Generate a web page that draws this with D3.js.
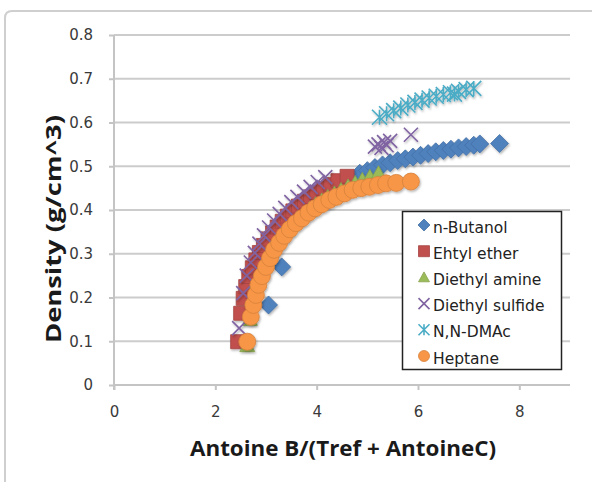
<!DOCTYPE html>
<html>
<head>
<meta charset="utf-8">
<script src="https://cdn.jsdelivr.net/npm/d3@7"></script>
<style>
  html, body { margin: 0; padding: 0; background: #fff; }
  svg { display: block; }
</style>
</head>
<body>
<svg id="chart" width="592" height="482"></svg>
<script>
// Axis ticks
const xTicks = [0, 2, 4, 6, 8];
const yTicks = [0, 0.1, 0.2, 0.3, 0.4, 0.5, 0.6, 0.7, 0.8];

// Series (x = Antoine B/(Tref + AntoineC), y = density g/cm^3)
const seriesNames = ["n-Butanol", "Ehtyl ether", "Diethyl amine", "Diethyl sulfide", "N,N-DMAc", "Heptane"];
const seriesColors = ["#4F81BD", "#C0504D", "#9BBB59", "#8064A2", "#4BACC6", "#F79646"];
const seriesShapes = ["diamond", "square", "triangle", "x", "star", "circle"];

const butanolX = [3.05, 3.31, 4.85, 5.0, 5.15, 5.3, 5.45, 5.6, 5.75, 5.9, 6.05, 6.2, 6.35, 6.5, 6.65, 6.8, 6.95, 7.1, 7.22, 7.61];
const butanolY = [0.183, 0.270, 0.484, 0.490, 0.497, 0.503, 0.508, 0.513, 0.517, 0.521, 0.525, 0.529, 0.533, 0.536, 0.539, 0.542, 0.545, 0.548, 0.551, 0.552];

const etherX = [2.44, 2.50, 2.55, 2.60, 2.66, 2.73, 2.80, 2.87, 2.95, 3.04, 3.13, 3.22, 3.32, 3.42, 3.53, 3.64, 3.76, 3.88, 4.0, 4.13, 4.27, 4.42, 4.6];
const etherY = [0.099, 0.164, 0.198, 0.225, 0.248, 0.268, 0.286, 0.303, 0.319, 0.334, 0.348, 0.361, 0.374, 0.386, 0.398, 0.409, 0.420, 0.430, 0.440, 0.449, 0.458, 0.467, 0.477];

const amineX = [2.63, 2.68, 2.75, 2.82, 2.9, 3.0, 3.1, 3.2, 3.3, 3.4, 3.5, 3.62, 3.74, 3.86, 3.98, 4.1, 4.22, 4.35, 4.48, 4.62, 4.76, 4.9, 5.05, 5.22];
const amineY = [0.090, 0.150, 0.200, 0.235, 0.262, 0.287, 0.308, 0.326, 0.342, 0.356, 0.369, 0.381, 0.392, 0.403, 0.413, 0.422, 0.430, 0.438, 0.446, 0.454, 0.462, 0.469, 0.476, 0.484];

const sulfideX = [2.47, 2.55, 2.62, 2.7, 2.78, 2.87, 2.96, 3.06, 3.16, 3.27, 3.38, 3.5, 3.62, 3.75, 3.88, 4.02, 4.17, 5.15, 5.22, 5.28, 5.33, 5.38, 5.45, 5.86];
const sulfideY = [0.130, 0.210, 0.250, 0.280, 0.302, 0.323, 0.342, 0.360, 0.376, 0.391, 0.405, 0.418, 0.430, 0.442, 0.453, 0.464, 0.475, 0.545, 0.550, 0.542, 0.555, 0.548, 0.558, 0.572];

const dmacX = [5.24, 5.38, 5.52, 5.66, 5.8, 5.94, 6.08, 6.22, 6.36, 6.5, 6.64, 6.72, 6.8, 6.95, 7.1];
const dmacY = [0.612, 0.620, 0.627, 0.633, 0.640, 0.646, 0.651, 0.656, 0.660, 0.664, 0.668, 0.665, 0.671, 0.675, 0.678];

const heptaneX = [2.63, 2.70, 2.75, 2.80, 2.85, 2.92, 3.0, 3.08, 3.16, 3.26, 3.36, 3.47, 3.59, 3.71, 3.84, 3.97, 4.10, 4.25, 4.39, 4.55, 4.71, 4.88, 5.04, 5.21, 5.37, 5.57, 5.86];
const heptaneY = [0.099, 0.156, 0.183, 0.206, 0.229, 0.249, 0.270, 0.290, 0.309, 0.325, 0.341, 0.356, 0.370, 0.381, 0.394, 0.404, 0.413, 0.423, 0.430, 0.438, 0.446, 0.450, 0.453, 0.457, 0.461, 0.462, 0.465];

const seriesX = [butanolX, etherX, amineX, sulfideX, dmacX, heptaneX];
const seriesY = [butanolY, etherY, amineY, sulfideY, dmacY, heptaneY];

const svg = d3.select("#chart");
const margin = { left: 114, right: 22, top: 35, bottom: 97 };
const W = 592, H = 482;

const x = d3.scaleLinear().domain([0, 9]).range([margin.left, W - margin.right]);
const y = d3.scaleLinear().domain([0, 0.8]).range([H - margin.bottom, margin.top]);

// Drop shadow for markers
const defs = svg.append("defs");
const shadow = defs.append("filter").attr("id", "shadow")
  .attr("x", "-50%").attr("y", "-50%").attr("width", "200%").attr("height", "200%");
shadow.append("feDropShadow").attr("dx", 1).attr("dy", 1.5)
  .attr("stdDeviation", 1).attr("flood-color", "#000").attr("flood-opacity", 0.3);

// Outer chart frame
svg.append("path")
  .attr("d", `M5,${H + 5} L5,18 Q5,11 12,11 L${W + 5},11`)
  .attr("fill", "none").attr("stroke", "#cfcfcf").attr("stroke-width", 2);

// Horizontal gridlines
svg.append("g").selectAll("line").data(yTicks.filter(d => d > 0)).join("line")
  .attr("x1", x(0)).attr("x2", x(9))
  .attr("y1", d => y(d)).attr("y2", d => y(d))
  .attr("stroke", "#cccccc").attr("stroke-width", 2);

// Axes
const yAxis = d3.axisLeft(y).tickValues(yTicks).tickSize(5).tickPadding(16)
  .tickFormat(d => d === 0 ? "0" : d3.format(".1f")(d));
const xAxis = d3.axisBottom(x).tickValues(xTicks).tickSize(5).tickPadding(16)
  .tickFormat(d3.format("d"));

const gy = svg.append("g").attr("transform", `translate(${x(0)},0)`).call(yAxis);
const gx = svg.append("g").attr("transform", `translate(0,${y(0)})`).call(xAxis);
[gx, gy].forEach(g => {
  g.select(".domain").attr("stroke", "#c4c4c4").attr("stroke-width", 2);
  g.selectAll(".tick line").attr("stroke", "#c4c4c4").attr("stroke-width", 2);
  g.selectAll(".tick text").attr("fill", "#3a3a3a").attr("font-size", 15)
    .attr("font-family", "'DejaVu Sans', sans-serif");
});
gx.select(".domain").attr("d", `M${x(0)},0H${x(9)}`);
gy.select(".domain").attr("d", `M0,${y(0) + 5}V${y(0.8)}`);

// Axis titles
svg.append("text")
  .attr("x", 343).attr("y", 456)
  .attr("text-anchor", "middle")
  .attr("font-family", "'Open Sans', sans-serif").attr("font-weight", "bold")
  .attr("font-size", 21).attr("fill", "#1a1a1a")
  .attr("textLength", 306).attr("lengthAdjust", "spacingAndGlyphs")
  .text("Antoine B/(Tref + AntoineC)");
svg.append("text")
  .attr("transform", "translate(61,229) rotate(-90)")
  .attr("text-anchor", "middle")
  .attr("font-family", "'Open Sans', sans-serif").attr("font-weight", "bold")
  .attr("font-size", 21).attr("fill", "#1a1a1a")
  .attr("textLength", 228).attr("lengthAdjust", "spacingAndGlyphs")
  .text("Density (g/cm^3)");

// Marker path generator: shape, half-size
function markerPath(shape, r) {
  switch (shape) {
    case "diamond": return `M0,${-r}L${r},0L0,${r}L${-r},0Z`;
    case "square": return `M${-r},${-r}H${r}V${r}H${-r}Z`;
    case "triangle": return `M0,${-r}L${r},${r * 0.8}L${-r},${r * 0.8}Z`;
    case "x": return `M${-r},${-r}L${r},${r}M${r},${-r}L${-r},${r}`;
    case "star": return `M${-r},${-r}L${r},${r}M${r},${-r}L${-r},${r}M0,${-r}V${r}`;
    case "circle": return `M${r},0A${r},${r} 0 1,1 ${-r},0A${r},${r} 0 1,1 ${r},0Z`;
  }
}
const markerSize = { diamond: 9, square: 7, triangle: 7.5, x: 7, star: 7.5, circle: 8.5 };

function styleMarker(sel, i, r) {
  const shape = seriesShapes[i];
  const c = seriesColors[i];
  const lineShape = shape === "x" || shape === "star";
  sel.attr("d", markerPath(shape, r))
    .attr("fill", lineShape ? "none" : c)
    .attr("stroke", lineShape ? c : d3.color(c).darker(0.4))
    .attr("stroke-width", lineShape ? 1.6 : 0.8);
}

// Series markers
seriesNames.forEach((name, i) => {
  const pts = seriesX[i].map((v, j) => [v, seriesY[i][j]]);
  svg.append("g").attr("filter", "url(#shadow)")
    .selectAll("path").data(pts).join("path")
    .attr("transform", d => `translate(${x(d[0])},${y(d[1])})`)
    .call(sel => styleMarker(sel, i, markerSize[seriesShapes[i]]));
});

// Legend
const legend = svg.append("g");
legend.append("rect")
  .attr("x", 402.5).attr("y", 211.5).attr("width", 159).attr("height", 158)
  .attr("fill", "#fff").attr("stroke", "#222").attr("stroke-width", 1.5);
seriesNames.forEach((name, i) => {
  const ly = 227 + i * 26.2;
  legend.append("path")
    .attr("transform", `translate(424,${ly - 2})`)
    .call(sel => styleMarker(sel, i, seriesShapes[i] === "diamond" ? 6 : 5.5));
  legend.append("text")
    .attr("x", 433).attr("y", ly + 5.5)
    .attr("font-family", "'DejaVu Sans', sans-serif").attr("font-size", 15.5)
    .attr("fill", "#222")
    .text(name);
});
</script>
</body>
</html>
